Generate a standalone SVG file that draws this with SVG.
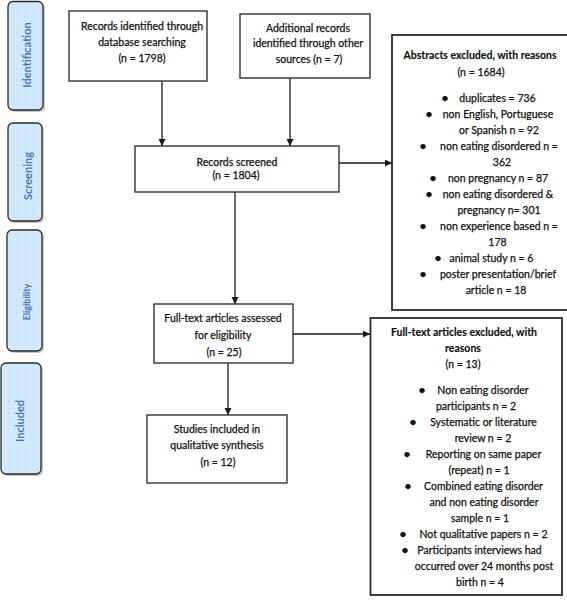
<svg xmlns="http://www.w3.org/2000/svg" width="567" height="600" viewBox="0 0 567 600">
<style>
.box{fill:#fff;stroke:#333;stroke-width:1.4}
.thick{stroke-width:1.8;stroke:#2a2a2a}
.side{fill:url(#dots);stroke:#2b2b2b;stroke-width:1.3}
.shadow{fill:#8a8f96;opacity:0.5}
.t{font-family:Lato,"Liberation Sans",sans-serif;font-size:10.5px;fill:#111;stroke:#111;stroke-width:0.25;text-anchor:middle}
.b{font-weight:bold;stroke-width:0.15}
.bu{font-size:12px;font-weight:bold}
.lab{font-family:Lato,"Liberation Sans",sans-serif;font-weight:bold;fill:#4a78b3;text-anchor:middle}
.con{fill:none;stroke:#1a1a1a;stroke-width:1.3}
</style>
<defs>
<pattern id="dots" width="4" height="4" patternUnits="userSpaceOnUse">
<rect width="4" height="4" fill="#d2e9fb"/>
<circle cx="1" cy="1" r="0.45" fill="#a9c7df"/>
</pattern>
<marker id="arr" markerUnits="userSpaceOnUse" markerWidth="8" markerHeight="8" refX="7" refY="3.5" orient="auto">
<path d="M0,0 L7,3.5 L0,7 z" fill="#1a1a1a"/>
</marker>
</defs>
<rect width="567" height="600" fill="#fff"/>

<g id="stage-identification">
<rect class="shadow" x="10" y="3" width="35" height="109" rx="5"/>
<rect class="side" x="8" y="1.5" width="35" height="108.5" rx="5"/>
<text class="lab" font-size="11" transform="translate(31,55) rotate(-90)">Identification</text>
</g>
<g id="stage-screening">
<rect class="shadow" x="10" y="125" width="34" height="98" rx="5"/>
<rect class="side" x="8" y="123" width="34" height="98" rx="5"/>
<text class="lab" font-size="11" transform="translate(31.5,176) rotate(-90)">Screening</text>
</g>
<g id="stage-eligibility">
<rect class="shadow" x="9" y="232" width="35" height="121" rx="5"/>
<rect class="side" x="7" y="230" width="35" height="121" rx="5"/>
<text class="lab" font-size="9" transform="translate(30,302) rotate(-90)">Eligibility</text>
</g>
<g id="stage-included">
<rect class="shadow" x="3" y="365" width="40" height="111" rx="5"/>
<rect class="side" x="1" y="363" width="40" height="111" rx="5"/>
<text class="lab" font-size="11" transform="translate(24,421) rotate(-90)">Included</text>
</g>

<g id="connectors">
<path class="con" d="M162,81 V146" marker-end="url(#arr)"/>
<path class="con" d="M290,78 V146" marker-end="url(#arr)"/>
<path class="con" d="M339,163 H392" marker-end="url(#arr)"/>
<path class="con" d="M235,192 V304" marker-end="url(#arr)"/>
<path class="con" d="M293,334 H370" marker-end="url(#arr)"/>
<path class="con" d="M228,363 V415" marker-end="url(#arr)"/>
</g>

<g id="records-database">
<rect class="box" x="69" y="11" width="138" height="70"/>
<text class="t" x="142" y="30">Records identified through</text>
<text class="t" x="142" y="46">database searching</text>
<text class="t" x="142" y="62">(n = 1798)</text>
</g>

<g id="records-other">
<rect class="box" x="240" y="14" width="130" height="64"/>
<text class="t" x="308" y="32">Additional records</text>
<text class="t" x="308" y="47">identified through other</text>
<text class="t" x="309" y="63">sources (n = 7)</text>
</g>

<g id="records-screened">
<rect class="box" x="135" y="146" width="204" height="46"/>
<text class="t" x="237" y="166">Records screened</text>
<text class="t" x="236" y="179">(n = 1804)</text>
</g>

<g id="abstracts-excluded">
<rect class="box thick" x="392" y="35" width="180" height="275"/>
<text class="t b" x="480" y="59">Abstracts excluded, with reasons</text>
<text class="t" x="481" y="76">(n = 1684)</text>
<text class="t bu" x="445" y="102">•</text><text class="t" x="497.5" y="102">duplicates = 736</text>
<text class="t bu" x="429" y="118">•</text><text class="t" x="498" y="118">non English, Portuguese</text>
<text class="t" x="499" y="134">or Spanish n = 92</text>
<text class="t bu" x="423" y="150">•</text><text class="t" x="499" y="150">non eating disordered n =</text>
<text class="t" x="502" y="166">362</text>
<text class="t bu" x="433" y="182">•</text><text class="t" x="498" y="182">non pregnancy n = 87</text>
<text class="t bu" x="429" y="198">•</text><text class="t" x="498" y="198">non eating disordered &amp;</text>
<text class="t" x="499" y="214">pregnancy n= 301</text>
<text class="t bu" x="423" y="230">•</text><text class="t" x="499" y="230">non experience based n =</text>
<text class="t" x="497.5" y="246">178</text>
<text class="t bu" x="438" y="262">•</text><text class="t" x="491.5" y="262">animal study n = 6</text>
<text class="t bu" x="423" y="278">•</text><text class="t" x="498" y="278">poster presentation/brief</text>
<text class="t" x="496" y="294">article n = 18</text>
</g>

<g id="fulltext-assessed">
<rect class="box" x="154" y="304" width="139" height="59"/>
<text class="t" x="223" y="322">Full-text articles assessed</text>
<text class="t" x="223" y="339">for eligibility</text>
<text class="t" x="224" y="356">(n = 25)</text>
</g>

<g id="studies-included">
<rect class="box" x="147" y="415" width="140" height="68"/>
<text class="t" x="217" y="433">Studies included in</text>
<text class="t" x="217" y="449">qualitative synthesis</text>
<text class="t" x="218" y="466">(n = 12)</text>
</g>

<g id="fulltext-excluded">
<rect class="box thick" x="370.5" y="318" width="191.5" height="277"/>
<text class="t b" x="464" y="336">Full-text articles excluded, with</text>
<text class="t b" x="463" y="352">reasons</text>
<text class="t" x="463" y="368">(n = 13)</text>
<text class="t bu" x="422" y="394">•</text><text class="t" x="483" y="394">Non eating disorder</text>
<text class="t" x="476" y="410">participants n = 2</text>
<text class="t bu" x="413" y="426">•</text><text class="t" x="483.5" y="426">Systematic or literature</text>
<text class="t" x="483" y="442">review n = 2</text>
<text class="t bu" x="407" y="458">•</text><text class="t" x="483.5" y="458">Reporting on same paper</text>
<text class="t" x="479" y="474">(repeat) n = 1</text>
<text class="t bu" x="408" y="490">•</text><text class="t" x="483.5" y="490">Combined eating disorder</text>
<text class="t" x="484" y="506">and non eating disorder</text>
<text class="t" x="480" y="522">sample n = 1</text>
<text class="t bu" x="403" y="538">•</text><text class="t" x="483.5" y="538">Not qualitative papers n = 2</text>
<text class="t bu" x="405" y="554">•</text><text class="t" x="479.5" y="554">Participants interviews had</text>
<text class="t" x="484" y="570">occurred over 24 months post</text>
<text class="t" x="480" y="586">birth n = 4</text>
</g>
</svg>
